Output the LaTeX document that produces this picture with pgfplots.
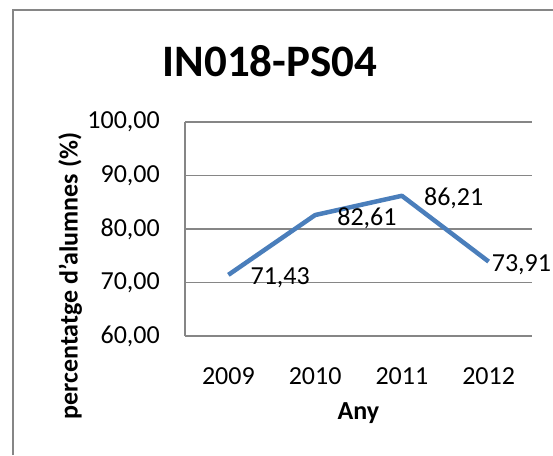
\documentclass[border=0pt]{standalone}
\usepackage{fontspec}
\setmainfont{Carlito}
\usepackage{pgfplots}
\pgfplotsset{compat=1.18}
\definecolor{excelblue}{HTML}{4A7EBB}
\definecolor{gridgray}{HTML}{868686}
\begin{document}
\begin{tikzpicture}[x=1pt,y=1pt]
\useasboundingbox (0,0) rectangle (553,455);
\draw[gridgray, line width=1.3pt] (13,0) -- (13,445) -- (553,445);
\node[font=\fontsize{45}{54}\selectfont\bfseries, anchor=base] at (270,378) {IN018-PS04};
\begin{axis}[
  at={(185pt,119pt)}, anchor=south west,
  scale only axis, width=347pt, height=214pt,
  xmin=-0.5, xmax=3.5, ymin=60, ymax=100,
  xtick={0,1,2,3}, xticklabels={2009,2010,2011,2012},
  ytick={60,70,80,90,100},
  ymajorgrids, grid style={gridgray, line width=1.2pt},
  axis x line*=bottom, axis y line*=left,
  axis line style={gridgray, line width=1.2pt, -},
  major tick length=0pt,
  /pgf/number format/assume math mode=true,
  tick label style={font=\fontsize{26}{31}\selectfont},
  xticklabel style={anchor=north, inner sep=0pt, yshift=-31pt},
  yticklabel style={anchor=east, inner sep=0pt, xshift=-25pt,
    /pgf/number format/.cd, fixed, fixed zerofill, precision=2, use comma, 1000 sep={}},
  xlabel={Any},
  xlabel style={font=\fontsize{26}{31}\selectfont\bfseries, at={(axis description cs:0.5,0)}, anchor=base, yshift=-83pt, inner sep=0pt},
  ylabel={percentatge d'alumnes (\%)},
  ylabel style={font=\fontsize{26}{31}\selectfont\bfseries, at={(axis description cs:-0.331,0.28)}, anchor=center, inner sep=0pt},
  clip=false,
]
\addplot[excelblue, line width=4.5pt, no markers, line join=round] coordinates {(0,71.43) (1,82.61) (2,86.21) (3,73.91)};
\addplot[draw=none, no markers, nodes near coords, point meta=explicit symbolic,
  nodes near coords style={anchor=west, inner sep=0pt, xshift=22pt, yshift=-3pt, font=\fontsize{26}{31}\selectfont, text=black}]
  table[meta=lab] {
x y lab
0 71.43 71,43
1 82.61 82,61
2 86.21 86,21
};
\addplot[draw=none, no markers, nodes near coords, point meta=explicit symbolic,
  nodes near coords style={anchor=west, inner sep=0pt, xshift=3pt, yshift=-3pt, font=\fontsize{26}{31}\selectfont, text=black}]
  table[meta=lab] {
x y lab
3 73.91 73,91
};
\end{axis}
\end{tikzpicture}
\end{document}
